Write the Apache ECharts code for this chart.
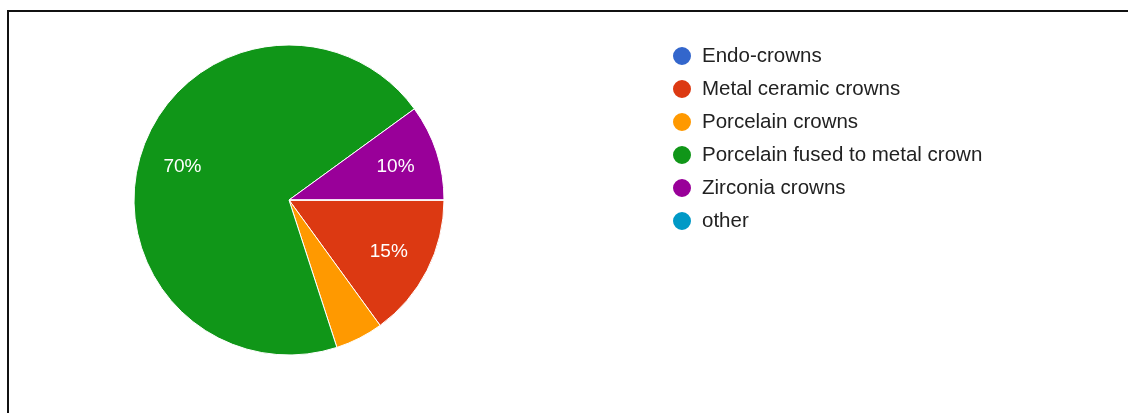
<!DOCTYPE html>
<html>
<head>
<meta charset="utf-8">
<script src="https://cdn.jsdelivr.net/npm/echarts@6/dist/echarts.min.js"></script>
<style>
  html, body { margin: 0; padding: 0; background: #fff; }
  #frame { position: absolute; left: 7px; top: 10px; width: 1121px; height: 403px;
           border-top: 2px solid #111; border-left: 2px solid #111; box-sizing: border-box; }
  #chart { position: absolute; left: 0; top: 0; width: 1128px; height: 413px; }
</style>
</head>
<body>
<div id="frame"></div>
<div id="chart"></div>
<script>
// Crown types and their share of responses (%)
const categories = ['Endo-crowns', 'Metal ceramic crowns', 'Porcelain crowns',
                    'Porcelain fused to metal crown', 'Zirconia crowns', 'other'];
const shares = [0, 15, 5, 70, 10, 0];
const palette = ['#3366cc', '#dc3912', '#ff9900', '#109618', '#990099', '#0099c6'];

const sliceData = categories.map((name, i) => ({ name, value: shares[i] }));
const fontFamily = 'Liberation Sans, Arial, sans-serif';

const chart = echarts.init(document.getElementById('chart'), null, { renderer: 'canvas' });
chart.setOption({
  animation: false,
  color: palette,
  legend: {
    orient: 'vertical',
    left: 666,
    top: 40,
    icon: 'circle',
    itemWidth: 30,
    itemHeight: 20,
    itemGap: 11,
    data: categories,
    textStyle: { fontFamily, fontSize: 20.5, color: '#222', lineHeight: 22 }
  },
  series: [
    {
      type: 'pie',
      center: [289, 200],
      radius: [0, 155],
      startAngle: 0,
      clockwise: true,
      avoidLabelOverlap: false,
      silent: true,
      data: sliceData,
      itemStyle: { borderColor: '#fff', borderWidth: 1 },
      label: { show: false },
      labelLine: { show: false }
    },
    {
      // transparent ring that only carries the percentage labels
      type: 'pie',
      center: [289, 201],
      radius: [63, 155],
      startAngle: 0,
      clockwise: true,
      avoidLabelOverlap: false,
      silent: true,
      data: sliceData,
      itemStyle: { color: 'rgba(0,0,0,0)', borderWidth: 0 },
      label: {
        show: true,
        position: 'inside',
        color: '#fff',
        fontFamily,
        fontSize: 19,
        formatter: p => (p.value >= 10 ? p.value + '%' : '')
      },
      labelLine: { show: false }
    }
  ]
});
</script>
</body>
</html>
